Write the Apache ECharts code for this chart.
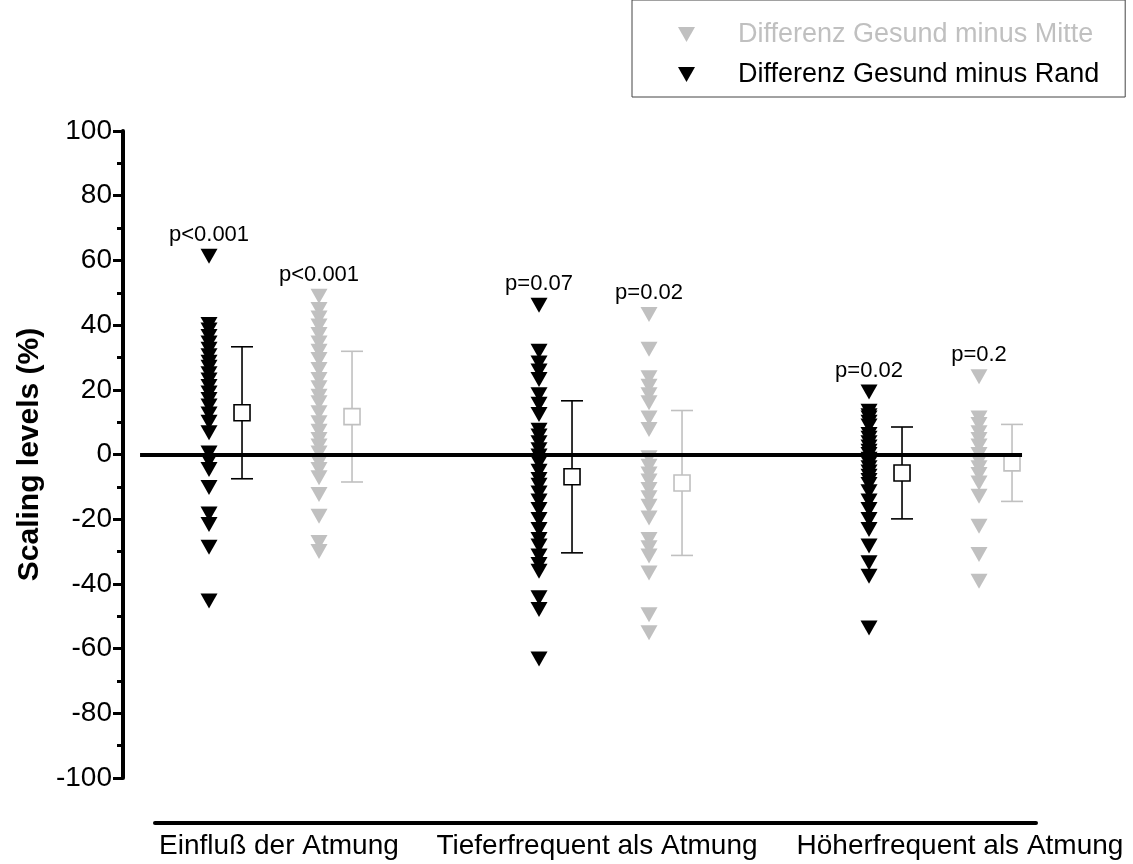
<!DOCTYPE html>
<html>
<head>
<meta charset="utf-8">
<script src="https://cdn.jsdelivr.net/npm/echarts@6/dist/echarts.min.js"></script>
<style>
  html, body { margin: 0; padding: 0; background: #fff; }
  #chart { width: 1133px; height: 864px; }
</style>
</head>
<body>
<div id="chart"></div>
<script>
// Category names along the bottom axis
const categories = ['Einfluß der Atmung', 'Tieferfrequent als Atmung', 'Höherfrequent als Atmung'];

// Individual differences (%), "Gesund minus Rand" (black), one array per category
const randEinfluss = [61.3, 40.2, 38.5, 36.5, 34.5, 32.5, 30.5, 28.5, 27, 25, 23, 21, 19, 17, 15, 12.5, 10, 6.7,
  0.5, -2, -4.6, -10.2, -18.4, -21.6, -28.7, -45.3];
const randTiefer = [46.1, 31.9, 28.3, 25.8, 23.2, 18.5, 15.5, 12.4, 7.5, 5.7, 3.6, 1.5, -0.5, -2.6, -5.2, -7.7, -9.5,
  -11.9, -14.4, -17.0, -20.1, -23.2, -26.3, -28.3, -31.4, -34.0, -36.1, -44.3, -47.9, -63.2];
const randHoeher = [19.3, 13.4, 12, 11.3, 10, 8.8, 6.2, 5, 3.6, 2.3, 1.0, 0, -1.5, -2.8, -4.1, -5.4, -6.7, -8, -9.3,
  -11.5, -14.4, -17.0, -20.1, -23.2, -28.3, -33.5, -37.6, -53.6];

// Individual differences (%), "Gesund minus Mitte" (grey)
const mitteEinfluss = [48.9, 44.8, 42.2, 39.7, 37.1, 34.5, 31.9, 29.4, 26.3, 23.2, 20.6, 18.0, 16.0, 12.9, 9.8, 7.2,
  4.6, 2.6, 0.5, -2.5, -4.6, -7.2, -12.4, -19.1, -27.2, -30.0];
const mitteTiefer = [43.3, 32.5, 23.7, 21.1, 18.5, 16.0, 11.3, 7.7, -1.0, -3.6, -6.0, -8.2, -10.8, -13.4, -16.0,
  -19.6, -26.3, -28.8, -31.4, -36.6, -49.5, -55.1];
const mitteHoeher = [24.0, 11.3, 9.3, 6.7, 4.6, 2.6, 0, -2.1, -4.1, -6.2, -8.8, -12.9, -22.2, -30.9, -39.2];

// Mean and standard deviation per category
const randMean = [12.9, -6.9, -5.7];
const randSD = [20.4, 23.5, 14.2];
const mitteMean = [11.7, -8.8, -2.6];
const mitteSD = [20.2, 22.4, 11.9];

// Significance labels above each column
const randP = ['p<0.001', 'p=0.07', 'p=0.02'];
const mitteP = ['p<0.001', 'p=0.02', 'p=0.2'];

// Y axis ticks
const yMin = -100, yMax = 100, yStep = 20;

const FONT = '"Liberation Sans", Arial, Helvetica, sans-serif';
const BLACK = '#000000';
const GREY = '#c0c0c0';
const TRI = 'path://M0,0L20,0L10,17.5Z';

// Horizontal slots: black column at 1 + 3g, grey column at 2 + 3g, error bar just right of each
const BAR_SHIFT = 0.3;
const X_MIN = 0.218, X_MAX = 8.518;
const ZERO_FROM = 0.373, ZERO_TO = 8.391;
// relative positions of category captions along the bottom axis line
const captionPos = [0.1407, 0.5017, 0.9137];

function columnData(groups, pLabels, offset) {
  const out = [];
  groups.forEach((vals, g) => {
    const x = offset + 3 * g;
    const top = Math.max.apply(null, vals);
    let labelled = false;
    vals.forEach(v => {
      const item = { value: [x, v] };
      if (!labelled && v === top) {
        labelled = true;
        item.label = {
          show: true, position: 'top', distance: 3, formatter: pLabels[g],
          color: '#000', fontSize: 22, fontFamily: FONT
        };
      }
      out.push(item);
    });
  });
  return out;
}

function barData(means, sds, offset) {
  return means.map((m, g) => [offset + 3 * g + BAR_SHIFT, m, sds[g]]);
}

function errorBar(color) {
  return function (params, api) {
    const x = api.value(0), m = api.value(1), s = api.value(2);
    const hi = api.coord([x, m + s]);
    const lo = api.coord([x, m - s]);
    const mid = api.coord([x, m]);
    const cap = 11, half = 8;
    const st = { stroke: color, lineWidth: 1.6, fill: null };
    return {
      type: 'group',
      children: [
        { type: 'line', shape: { x1: hi[0], y1: hi[1], x2: lo[0], y2: lo[1] }, style: st },
        { type: 'line', shape: { x1: hi[0] - cap, y1: hi[1], x2: hi[0] + cap, y2: hi[1] }, style: st },
        { type: 'line', shape: { x1: lo[0] - cap, y1: lo[1], x2: lo[0] + cap, y2: lo[1] }, style: st },
        { type: 'rect', shape: { x: mid[0] - half, y: mid[1] - half, width: 2 * half, height: 2 * half },
          style: { fill: '#ffffff', stroke: color, lineWidth: 1.6 } }
      ]
    };
  };
}

const chart = echarts.init(document.getElementById('chart'), null, { renderer: 'canvas' });

chart.setOption({
  animation: false,
  backgroundColor: '#ffffff',
  textStyle: { fontFamily: FONT },
  legend: {
    orient: 'vertical',
    left: 632, top: 0,
    padding: [21, 26, 9, 46],
    itemGap: 13,
    itemWidth: 17, itemHeight: 15,
    borderColor: '#444', borderWidth: 1,
    selectedMode: false,
    textStyle: { fontSize: 27, fontFamily: FONT, padding: [0, 0, 0, 38] },
    data: [
      { name: 'Differenz Gesund minus Mitte', textStyle: { color: GREY } },
      { name: 'Differenz Gesund minus Rand', textStyle: { color: BLACK } }
    ]
  },
  grid: [
    { left: 123, right: 97, top: 131, bottom: 86 },
    { left: 155, right: 97, top: 822, height: 1 }
  ],
  xAxis: [
    { gridIndex: 0, type: 'value', min: X_MIN, max: X_MAX, show: false },
    {
      gridIndex: 1, type: 'value', min: 0, max: 1, position: 'bottom',
      axisLine: { show: true, onZero: false, lineStyle: { color: BLACK, width: 4 } },
      axisTick: { show: false },
      splitLine: { show: false },
      axisLabel: {
        customValues: captionPos,
        formatter: (v) => {
          let best = 0;
          captionPos.forEach((p, i) => { if (Math.abs(p - v) < Math.abs(captionPos[best] - v)) best = i; });
          return categories[best];
        },
        color: BLACK, fontSize: 28, fontFamily: FONT, margin: 9, hideOverlap: false
      }
    }
  ],
  yAxis: [
    {
      gridIndex: 0, type: 'value', min: yMin, max: yMax, interval: yStep,
      name: 'Scaling levels (%)', nameLocation: 'middle', nameGap: 74,
      nameTextStyle: { color: BLACK, fontSize: 30, fontWeight: 'bold', fontFamily: FONT },
      axisLine: { show: true, onZero: false, lineStyle: { color: BLACK, width: 4 } },
      axisTick: { show: true, length: 10, lineStyle: { color: BLACK, width: 3 } },
      minorTick: { show: true, splitNumber: 2, length: 6, lineStyle: { color: BLACK, width: 3 } },
      splitLine: { show: false },
      axisLabel: { color: BLACK, fontSize: 28, fontFamily: FONT, margin: 11 }
    },
    { gridIndex: 1, type: 'value', min: 0, max: 1, show: false }
  ],
  series: [
    {
      name: 'Differenz Gesund minus Rand', type: 'scatter', xAxisIndex: 0, yAxisIndex: 0,
      symbol: TRI, symbolSize: [17, 15], itemStyle: { color: BLACK, opacity: 1 },
      data: columnData([randEinfluss, randTiefer, randHoeher], randP, 1), z: 2
    },
    {
      name: 'Differenz Gesund minus Mitte', type: 'scatter', xAxisIndex: 0, yAxisIndex: 0,
      symbol: TRI, symbolSize: [17, 15], itemStyle: { color: GREY, opacity: 1 },
      data: columnData([mitteEinfluss, mitteTiefer, mitteHoeher], mitteP, 2), z: 2
    },
    {
      name: 'Mittelwert Rand', type: 'custom', xAxisIndex: 0, yAxisIndex: 0,
      renderItem: errorBar(BLACK), data: barData(randMean, randSD, 1), z: 3
    },
    {
      name: 'Mittelwert Mitte', type: 'custom', xAxisIndex: 0, yAxisIndex: 0,
      renderItem: errorBar(GREY), data: barData(mitteMean, mitteSD, 2), z: 3
    },
    {
      name: 'Nulllinie', type: 'line', xAxisIndex: 0, yAxisIndex: 0, data: [], z: 5,
      markLine: {
        silent: true, symbol: 'none', label: { show: false },
        lineStyle: { color: BLACK, width: 4, type: 'solid' },
        data: [[{ coord: [ZERO_FROM, 0] }, { coord: [ZERO_TO, 0] }]]
      }
    }
  ]
});
</script>
</body>
</html>
